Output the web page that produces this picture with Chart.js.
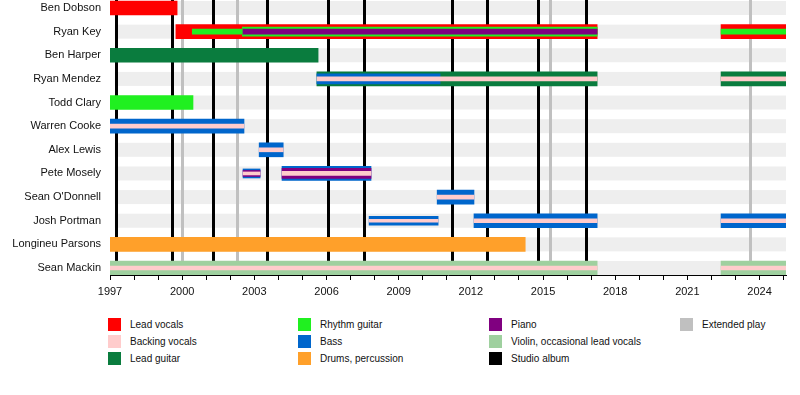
<!DOCTYPE html>
<html>
<head>
<meta charset="utf-8">
<script src="https://cdn.jsdelivr.net/npm/chart.js@4/dist/chart.umd.min.js"></script>
<style>
  body { margin: 0; background: #fff; font-family: "Liberation Sans", Arial, sans-serif; }
  #wrap { position: relative; width: 800px; height: 395px; }
  #chartBox { position: absolute; left: 0; top: 0; width: 800px; height: 300px; }
  .item { position: absolute; font-size: 10px; color: #111; line-height: 13px; white-space: nowrap; }
  .sw { position: absolute; left: 0; top: 0; width: 13px; height: 13px; }
  .lbl { position: absolute; left: 22px; top: 0; }
</style>
</head>
<body>
<div id="wrap">
  <div id="chartBox"><canvas id="timeline" width="800" height="300"></canvas></div>
  <div id="legend"></div>
</div>
<script>
// ---- data ----
const members = ['Ben Dobson', 'Ryan Key', 'Ben Harper', 'Ryan Mendez', 'Todd Clary', 'Warren Cooke',
  'Alex Lewis', 'Pete Mosely', "Sean O'Donnell", 'Josh Portman', 'Longineu Parsons', 'Sean Mackin'];

const leadVocals = [['Ben Dobson', 1997.0, 1999.79], ['Ryan Key', 1999.74, 2017.25], ['Ryan Key', 2022.4, 2025.1]];
const leadGuitar = [['Ben Harper', 1997.0, 2005.65], ['Ryan Mendez', 2005.6, 2017.25], ['Ryan Mendez', 2022.4, 2025.1]];
const rhythmGuitar = [['Todd Clary', 1997.0, 2000.45]];
const rhythmGuitarKey = [['Ryan Key', 2000.42, 2002.5], ['Ryan Key', 2022.4, 2025.1]];
const rhythmGuitarKeyLate = [['Ryan Key', 2002.5, 2017.25]];
const bass = [['Warren Cooke', 1997.0, 2002.57], ['Alex Lewis', 2003.2, 2004.2], ['Pete Mosely', 2004.15, 2007.85],
  ["Sean O'Donnell", 2010.6, 2012.13], ['Josh Portman', 2012.13, 2017.25], ['Josh Portman', 2022.4, 2025.1]];
const bassMendez = [['Ryan Mendez', 2005.6, 2010.72]];
const bassTouring = [['Pete Mosely', 2002.53, 2003.24], ['Josh Portman', 2007.77, 2010.64]];
const drums = [['Longineu Parsons', 1997.0, 2014.26]];
const piano = [['Pete Mosely', 2004.15, 2007.85]];
const pianoTouring = [['Pete Mosely', 2002.53, 2003.24]];
const pianoKey = [['Ryan Key', 2002.5, 2017.25]];
const violin = [['Sean Mackin', 1997.0, 2017.25], ['Sean Mackin', 2022.4, 2025.1]];
const backingVocals = [['Warren Cooke', 1997.0, 2002.57], ['Ryan Mendez', 2005.6, 2017.25], ['Ryan Mendez', 2022.4, 2025.1],
  ['Alex Lewis', 2003.2, 2004.2], ['Pete Mosely', 2004.15, 2007.85], ["Sean O'Donnell", 2010.6, 2012.13],
  ['Josh Portman', 2012.13, 2017.25], ['Josh Portman', 2022.4, 2025.1],
  ['Sean Mackin', 1997.0, 2017.25], ['Sean Mackin', 2022.4, 2025.1]];
const backingVocalsTouring = [['Pete Mosely', 2002.53, 2003.24], ['Josh Portman', 2007.77, 2010.64]];

const studioAlbums = [1997.25, 1999.58, 2001.28, 2003.53, 2006.06, 2007.56, 2011.22, 2012.68, 2014.8, 2016.79];
const extendedPlays = [2000.0, 2002.28, 2015.3, 2023.6];
const rowSpan = [1997.2, 2025.1];
const yearLabels = [1997, 2000, 2003, 2006, 2009, 2012, 2015, 2018, 2021, 2024];
const firstYear = 1997, lastYear = 2025, axisEnd = 2025.1;

const colors = {
  'Lead vocals': '#ff0000', 'Backing vocals': '#ffcccc', 'Lead guitar': '#0a7c3e',
  'Rhythm guitar': '#20f020', 'Bass': '#0066cc', 'Drums, percussion': '#ffa02a',
  'Piano': '#800080', 'Violin, occasional lead vocals': '#9fd09f', 'Studio album': '#000000',
  'Extended play': '#c0c0c0'
};
const legendColumns = [
  ['Lead vocals', 'Backing vocals', 'Lead guitar'],
  ['Rhythm guitar', 'Bass', 'Drums, percussion'],
  ['Piano', 'Violin, occasional lead vocals', 'Studio album'],
  ['Extended play']
];

// ---- chart ----
function layer(rows, role, thickness, order) {
  return {
    label: role,
    data: rows.map(([name, from, to]) => ({ x: [from, to], y: members.indexOf(name) })),
    backgroundColor: colors[role],
    barThickness: thickness,
    grouped: false,
    order: order
  };
}

// row bands + album lines, under the bars
const backdrop = {
  id: 'backdrop',
  beforeDatasetsDraw(chart) {
    const { ctx, chartArea, scales: { x, y } } = chart;
    ctx.save();
    ctx.fillStyle = '#eeeeee';
    const x0 = x.getPixelForValue(rowSpan[0]), x1 = x.getPixelForValue(rowSpan[1]);
    members.forEach((m, i) => {
      const py = y.getPixelForValue(i);
      ctx.fillRect(x0, py - 7, x1 - x0, 14);
    });
    ctx.lineWidth = 3;
    [[extendedPlays, colors['Extended play']], [studioAlbums, colors['Studio album']]].forEach(([list, col]) => {
      ctx.strokeStyle = col;
      list.forEach(v => {
        const px = Math.round(x.getPixelForValue(v)) + 0.5;
        ctx.beginPath();
        ctx.moveTo(px, chartArea.top);
        ctx.lineTo(px, chartArea.bottom);
        ctx.stroke();
      });
    });
    ctx.restore();
  }
};

new Chart(document.getElementById('timeline'), {
  type: 'bar',
  data: {
    datasets: [
      layer(leadVocals, 'Lead vocals', 14, 5),
      layer(leadGuitar, 'Lead guitar', 14, 5),
      layer(rhythmGuitar, 'Rhythm guitar', 14, 5),
      layer(bass, 'Bass', 14, 5),
      layer(drums, 'Drums, percussion', 14, 5),
      layer(violin, 'Violin, occasional lead vocals', 14, 5),
      layer(bassTouring, 'Bass', 9, 5),
      layer(rhythmGuitarKeyLate, 'Rhythm guitar', 9, 4),
      layer(bassMendez, 'Bass', 10, 4),
      layer(piano, 'Piano', 10, 4),
      layer(pianoTouring, 'Piano', 6, 4),
      layer(rhythmGuitarKey, 'Rhythm guitar', 5, 3),
      layer(pianoKey, 'Piano', 5, 3),
      layer(backingVocals, 'Backing vocals', 4, 2),
      layer(backingVocalsTouring, 'Backing vocals', 3, 2)
    ]
  },
  options: {
    indexAxis: 'y',
    responsive: false,
    animation: false,
    layout: { padding: { left: 0, right: 14, top: 0, bottom: 0 } },
    plugins: { legend: { display: false }, tooltip: { enabled: false } },
    scales: {
      x: {
        type: 'linear',
        min: firstYear,
        max: axisEnd,
        afterBuildTicks: s => {
          const t = [];
          for (let yr = firstYear; yr <= lastYear; yr++) t.push({ value: yr });
          s.ticks = t;
        },
        afterFit: s => { s.height = 25; },
        grid: { drawOnChartArea: false, tickLength: 5, color: '#000' },
        border: { color: '#000', width: 1 },
        ticks: {
          autoSkip: false, maxRotation: 0, padding: 5, color: '#111',
          font: { family: '"Liberation Sans", Arial, sans-serif', size: 11 },
          callback: v => yearLabels.includes(v) ? String(v) : ''
        }
      },
      y: {
        type: 'linear',
        reverse: true,
        offset: false,
        min: -0.3385,
        max: 11.2965,
        afterBuildTicks: s => { s.ticks = members.map((m, i) => ({ value: i })); },
        afterFit: s => { s.width = 110; s.paddingTop = 0; s.paddingBottom = 0; },
        grid: { display: false, drawTicks: false, offset: false },
        border: { display: false },
        ticks: {
          padding: 9, color: '#111',
          font: { family: '"Liberation Sans", Arial, sans-serif', size: 11 },
          callback: v => members[v] ?? ''
        }
      }
    }
  },
  plugins: [backdrop]
});

// ---- legend ----
const legendX = [108, 298, 489, 680];
const legendY = [318, 335, 352];
const legend = document.getElementById('legend');
legendColumns.forEach((col, c) => {
  col.forEach((role, r) => {
    const it = document.createElement('div');
    it.className = 'item';
    it.style.left = legendX[c] + 'px';
    it.style.top = legendY[r] + 'px';
    it.innerHTML = '<span class="sw" style="background:' + colors[role] + '"></span><span class="lbl">' + role + '</span>';
    legend.appendChild(it);
  });
});
</script>
</body>
</html>
